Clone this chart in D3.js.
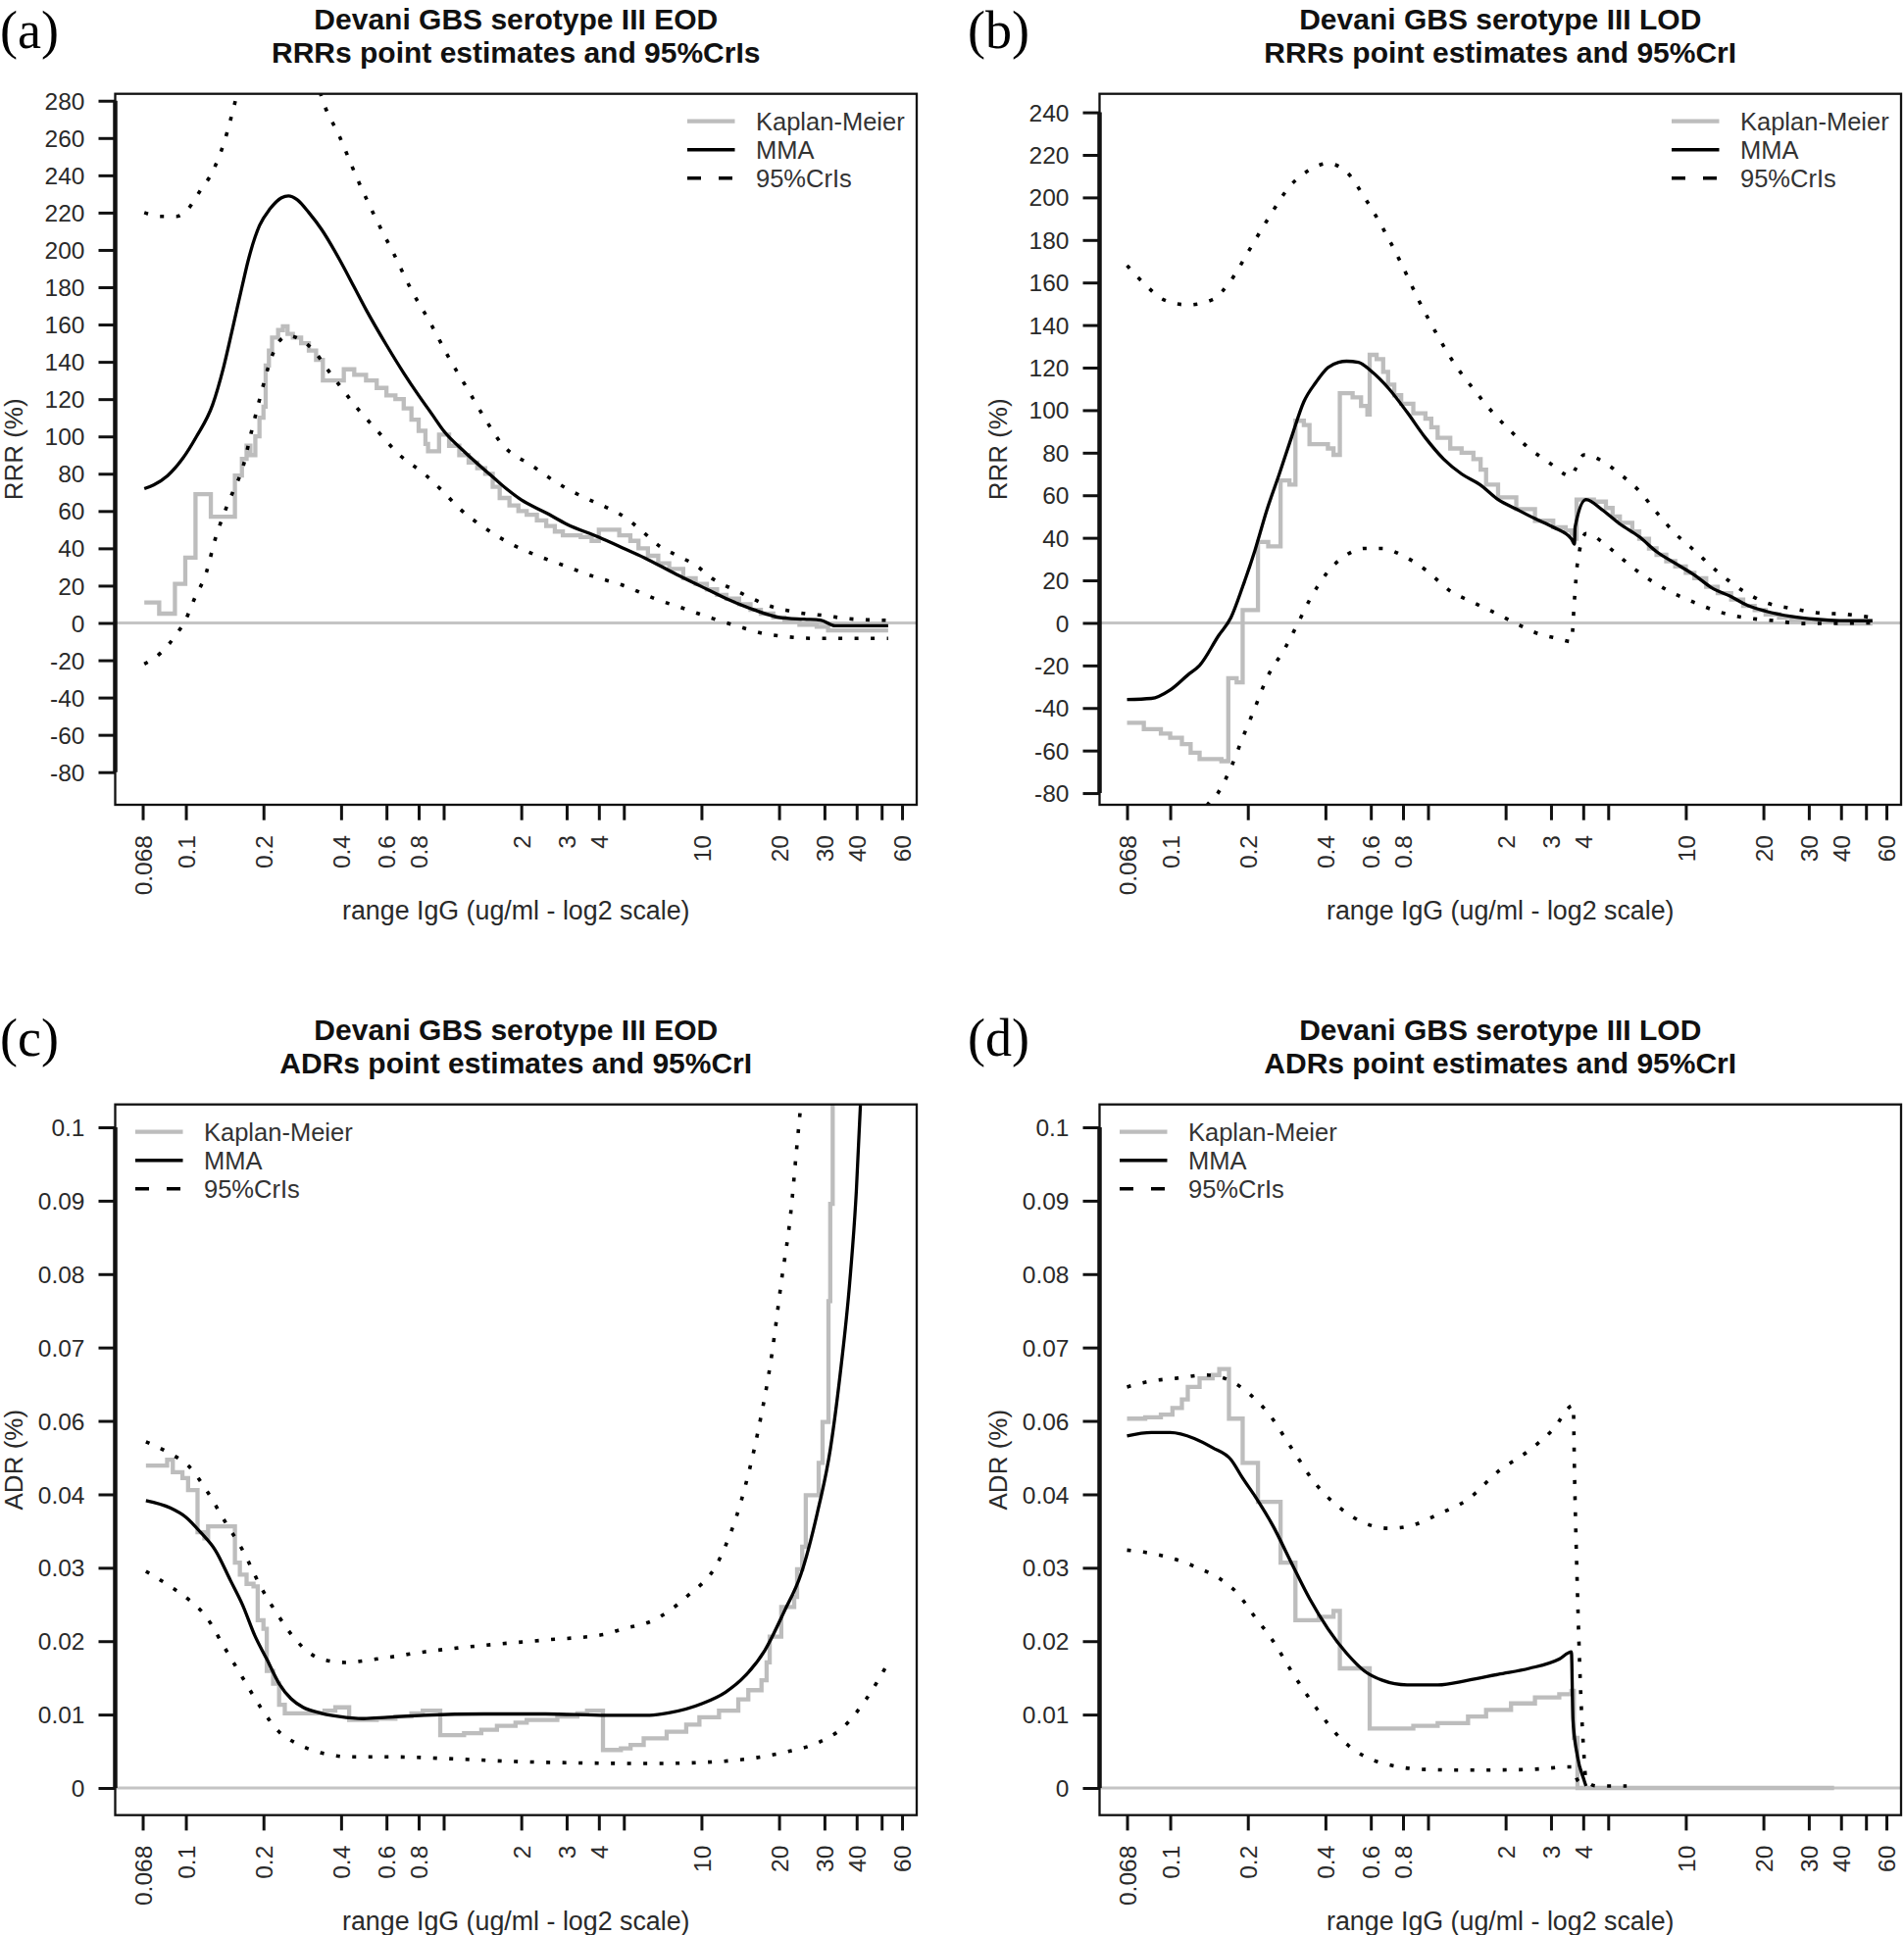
<!DOCTYPE html>
<html><head><meta charset="utf-8">
<script src="https://cdn.jsdelivr.net/npm/d3@7"></script>
<style>body{margin:0;background:#fff}svg{display:block}</style>
</head><body>
<svg id="chart" width="1942" height="1974"></svg>
<script>
// ---------- DATA ----------
const xTickValues = [0.068,0.1,0.2,0.4,0.6,0.8,1,2,3,4,5,10,20,30,40,50,60];
const xTickLabels = ["0.068","0.1","0.2","0.4","0.6","0.8","","2","3","4","","10","20","30","40","","60"];
const yTicksA = [-80,-60,-40,-20,0,20,40,60,80,100,120,140,160,180,200,220,240,260,280];
const yTicksB = [-80,-60,-40,-20,0,20,40,60,80,100,120,140,160,180,200,220,240];
const yTicksADR = [0,0.01111,0.02222,0.03333,0.04444,0.05556,0.06667,0.07778,0.08889,0.1];
const yTickLabelsADR = ["0","0.01","0.02","0.03","0.04","0.06","0.07","0.08","0.09","0.1"];
const legendLabels = ["Kaplan-Meier","MMA","95%CrIs"];
const titlesA = ["Devani GBS serotype III EOD","RRRs point estimates and 95%CrIs"];
const titlesB = ["Devani GBS serotype III LOD","RRRs point estimates and 95%CrI"];
const titlesC = ["Devani GBS serotype III EOD","ADRs point estimates and 95%CrI"];
const titlesD = ["Devani GBS serotype III LOD","ADRs point estimates and 95%CrI"];
const xTitle = "range IgG (ug/ml - log2 scale)";

// panel (a) RRR EOD
const kmA = [[0.069,11],[0.0788,5],[0.0907,21],[0.0995,35],[0.109,69],[0.125,57],[0.155,79],[0.165,88],[0.172,95],[0.178,90],[0.186,100],[0.193,110],[0.2,116],[0.204,138],[0.21,146],[0.216,153],[0.228,157],[0.238,159],[0.248,155],[0.26,153],[0.28,150],[0.3,146],[0.32,141],[0.34,130],[0.41,136],[0.45,133],[0.5,130],[0.55,126],[0.6,122],[0.65,120],[0.7,115],[0.75,109],[0.8,103],[0.85,96],[0.87,92],[0.96,101],[1.05,95],[1.15,90],[1.25,86],[1.35,83],[1.45,80],[1.55,73],[1.65,67],[1.8,63],[1.95,60],[2.1,58],[2.3,55],[2.5,52],[2.7,49],[2.9,47],[3.4,46],[3.75,44],[4.0,50],[4.8,47],[5.3,44],[5.7,40],[6.2,36],[6.8,32],[7.5,29],[8.5,24],[9.5,21],[10.5,18],[11.5,15],[12.5,13],[14,10],[15.5,7],[17,5],[19,3],[21,1],[24,-1],[28,-2],[31,-4],[53,-4]];
const mmaA = [[0.069,72],[0.075,74],[0.085,79],[0.097,88],[0.11,100],[0.127,117],[0.14,137],[0.153,160],[0.165,180],[0.175,195],[0.193,213],[0.212,222],[0.235,228],[0.25,229],[0.27,227],[0.3,220],[0.336,211],[0.394,195],[0.45,180],[0.5,168],[0.6,149],[0.7,134],[0.8,122],[0.9,112],[1,103],[1.2,92],[1.5,80],[1.75,72],[2,66],[2.5,59],[3,53],[4,46],[5,40],[6,35],[8,26],[10,19.5],[12.5,13],[16,7],[20,3],[25,2],[29,1.5],[33,-1.5],[53,-1.5]];
const ciLowA = [[0.069,-22],[0.08,-16],[0.092,-6],[0.1,2],[0.108,13],[0.12,27],[0.13,45],[0.141,59],[0.153,71],[0.166,83],[0.18,103],[0.195,122],[0.212,140],[0.23,151],[0.25,154],[0.285,151],[0.318,145],[0.354,136],[0.394,127.5],[0.463,115],[0.545,104],[0.675,90],[0.84,80],[0.985,71],[1.16,61],[1.44,51],[1.79,43],[2.22,37],[2.9,31],[3.8,25],[5.0,20],[6.6,13],[8.6,7.6],[11.1,2.3],[14,-2],[17.3,-5.6],[21.5,-7.4],[28,-8.3],[53,-8.3]];
const ciUpA = [[0.069,220],[0.08,218],[0.092,218],[0.102,222],[0.114,232],[0.127,242],[0.141,258],[0.157,282],[0.18,315],[0.22,335],[0.27,325],[0.31,300],[0.336,282],[0.394,261],[0.463,238],[0.545,217],[0.64,198],[0.753,178],[0.887,161],[1.04,143],[1.23,126],[1.44,110],[1.68,96],[2.22,84],[2.76,75],[3.42,68],[4.27,62],[5,57],[5.8,50],[6.9,41],[8.1,36],[9.6,30.5],[11.1,23.5],[13.3,18],[15.8,13],[18.1,9.4],[21.5,6.7],[25.2,5],[30,4],[36.7,2.3],[53,1.4]];

// panel (b) RRR LOD
const kmB = [[0.068,-47],[0.079,-50],[0.092,-52],[0.1,-54],[0.111,-57],[0.12,-61],[0.13,-64],[0.158,-65],[0.168,-26],[0.181,-28],[0.191,6],[0.219,38],[0.24,36],[0.268,67],[0.29,65],[0.306,95],[0.33,93],[0.347,84],[0.409,82],[0.43,79],[0.455,108],[0.51,106],[0.55,102],[0.582,98],[0.594,126],[0.632,124],[0.67,118],[0.7,112],[0.74,107],[0.787,103],[0.877,98.5],[0.977,96],[1.03,92],[1.09,87],[1.22,82],[1.35,80],[1.5,77],[1.6,72],[1.68,65],[1.87,59],[2.2,53.5],[2.6,48],[3.06,45],[3.42,43.5],[3.6,42],[3.7,39.5],[3.77,58],[4.4,57],[4.9,54],[5.2,50],[5.55,47],[6.2,43],[6.6,39.5],[7.2,35],[7.7,32],[8.4,29],[9.1,26.5],[10,23.5],[10.8,21],[12,17],[13.3,14],[15,11],[16.7,8],[18.5,6],[20.4,4],[23,2.5],[25.7,1.2],[32,0.3],[39.5,-0.3],[53,-0.3]];
const mmaB = [[0.068,-36],[0.0845,-35.5],[0.1,-31.5],[0.117,-24.5],[0.13,-20],[0.154,-6],[0.172,2.5],[0.191,17],[0.213,34],[0.237,53],[0.265,70],[0.295,87],[0.33,104],[0.367,113],[0.409,120],[0.45,122.5],[0.483,123],[0.537,122.5],[0.6,118.5],[0.706,110],[0.83,99],[0.977,87],[1.15,77],[1.35,70],[1.59,65],[1.87,58],[2.2,53.5],[2.6,49],[3.06,45],[3.6,39.5],[3.7,37],[3.72,45],[4.1,58],[4.7,53.5],[5.55,46.5],[6.6,40.5],[7.7,33.5],[9.1,28],[10.8,22.5],[12.6,16.5],[14.9,12.5],[17.5,8],[20.4,5.5],[25.7,3],[32,1.7],[39.5,1.1],[53,1]];
const ciLowB = [[0.068,-160],[0.085,-145],[0.1,-128],[0.12,-105],[0.138,-86.5],[0.154,-79.5],[0.172,-68],[0.191,-54],[0.213,-40],[0.237,-26],[0.28,-11.5],[0.312,-0.5],[0.348,11],[0.409,24],[0.483,32],[0.567,35],[0.665,35],[0.787,32],[0.977,25],[1.22,15],[1.5,9.6],[1.87,4],[2.2,-0.3],[2.6,-4.5],[3.2,-7.4],[3.6,-8.8],[3.7,11],[3.8,28],[4.1,42],[4.75,38],[5.55,31],[6.9,22],[8.6,15],[10.8,9.6],[13.3,5.4],[16.7,2.6],[21.8,1.1],[28.5,-0.3],[53,0]];
const ciUpB = [[0.068,168],[0.08,159],[0.094,152],[0.117,149.5],[0.146,152],[0.172,161],[0.202,175],[0.237,189],[0.295,206],[0.348,213],[0.409,216],[0.483,212],[0.567,200],[0.665,186],[0.787,169],[0.926,151],[1.09,135],[1.28,121],[1.5,110],[1.78,99],[2.1,90],[2.47,82],[2.9,76],[3.6,69],[3.72,72],[4.03,79],[4.75,76],[5.55,70],[6.6,62],[7.7,52],[9.1,42],[10.8,34],[13.3,24],[16.7,15],[20.4,9.6],[25.7,6.8],[32,4.8],[42,4],[53,2.5]];

// panel (c) ADR EOD
const kmC = [[0.07,0.0488],[0.0846,0.0497],[0.089,0.0478],[0.097,0.0469],[0.102,0.0451],[0.111,0.0387],[0.118,0.0378],[0.122,0.0396],[0.155,0.0341],[0.162,0.0323],[0.172,0.0309],[0.183,0.0305],[0.19,0.0254],[0.2,0.0241],[0.206,0.0177],[0.218,0.0158],[0.23,0.0126],[0.242,0.0113],[0.345,0.0117],[0.38,0.0122],[0.43,0.0103],[0.55,0.0105],[0.65,0.0108],[0.75,0.0113],[0.83,0.0117],[0.97,0.008],[1.2,0.0083],[1.4,0.0088],[1.61,0.0094],[1.9,0.0099],[2.1,0.0103],[2.76,0.0108],[3.3,0.0113],[3.6,0.0117],[4.15,0.00575],[4.87,0.006],[5.31,0.0065],[5.97,0.0075],[7.33,0.0085],[8.73,0.0096],[9.82,0.0107],[11.7,0.0117],[13.9,0.0134],[15.2,0.0148],[17.1,0.0163],[17.9,0.019],[18.4,0.0229],[20.4,0.0274],[22.9,0.0289],[23.5,0.0331],[24.6,0.0365],[25.4,0.0443],[28.5,0.0492],[29.5,0.0554],[31.1,0.0737],[31.6,0.0884],[32.3,0.115]];
const mmaC = [[0.07,0.0435],[0.087,0.0424],[0.1,0.041],[0.114,0.0387],[0.13,0.036],[0.149,0.0314],[0.166,0.0277],[0.185,0.0231],[0.206,0.0195],[0.23,0.0158],[0.256,0.0135],[0.285,0.0122],[0.336,0.0113],[0.394,0.0108],[0.489,0.0105],[0.607,0.0107],[0.84,0.011],[1.44,0.0112],[2.49,0.0112],[4.27,0.011],[6.3,0.011],[7.55,0.0114],[10.1,0.0128],[12.4,0.0145],[14.8,0.017],[17.6,0.0208],[21,0.0268],[24.3,0.0323],[28.1,0.0415],[31.6,0.0512],[34.5,0.0625],[37.6,0.0765],[39.9,0.0904],[41.4,0.1036],[42.5,0.115]];
const ciLowC = [[0.07,0.0328],[0.087,0.0305],[0.102,0.0286],[0.12,0.0259],[0.141,0.0213],[0.166,0.0167],[0.195,0.0122],[0.23,0.0085],[0.27,0.0067],[0.336,0.0053],[0.44,0.0047],[0.64,0.0047],[1.1,0.0044],[1.9,0.004],[3.26,0.0038],[6.5,0.0037],[11.7,0.004],[21,0.0054],[28.1,0.0068],[35.5,0.0092],[43.5,0.0134],[52.6,0.0187]];
const ciUpC = [[0.07,0.0524],[0.087,0.0506],[0.102,0.0488],[0.12,0.0451],[0.141,0.0405],[0.166,0.036],[0.195,0.0305],[0.23,0.0259],[0.27,0.0222],[0.336,0.0195],[0.416,0.019],[0.545,0.0195],[0.84,0.0206],[1.44,0.0216],[2.49,0.0224],[4.27,0.0233],[4.87,0.024],[6.52,0.0254],[8.73,0.0289],[11.7,0.0345],[14.3,0.0436],[16.6,0.0541],[18.7,0.0653],[20.4,0.0765],[22.2,0.087],[23.5,0.0975],[24.3,0.1036],[25,0.11]];

// panel (d) ADR LOD
const kmD = [[0.068,0.0559],[0.08,0.0561],[0.092,0.0565],[0.102,0.0575],[0.111,0.0588],[0.117,0.0607],[0.13,0.062],[0.146,0.0625],[0.155,0.0634],[0.169,0.0559],[0.191,0.0492],[0.219,0.0433],[0.268,0.0341],[0.306,0.0254],[0.377,0.0259],[0.43,0.0268],[0.455,0.0181],[0.594,0.009],[0.705,0.009],[0.877,0.0094],[1.09,0.0098],[1.43,0.0108],[1.68,0.0118],[2.1,0.0128],[2.6,0.0137],[3.23,0.0142],[3.6,0.0147],[3.68,0.0076],[3.8,0],[37.6,0]];
const mmaD = [[0.068,0.0533],[0.0845,0.0538],[0.1,0.0538],[0.124,0.0529],[0.146,0.0515],[0.172,0.0497],[0.191,0.0469],[0.213,0.0442],[0.251,0.0396],[0.295,0.0341],[0.348,0.0286],[0.409,0.0241],[0.483,0.0204],[0.567,0.0177],[0.665,0.0163],[0.83,0.0156],[1.09,0.0156],[1.43,0.0163],[1.87,0.0172],[2.47,0.0181],[3.23,0.0195],[3.6,0.0206],[3.65,0.0103],[3.8,0.0048],[4.03,0.0012],[4.1,0.0003]];
const ciLowD = [[0.068,0.036],[0.0845,0.0355],[0.105,0.0346],[0.13,0.0332],[0.154,0.0318],[0.181,0.0296],[0.213,0.0259],[0.251,0.0222],[0.295,0.0177],[0.367,0.0122],[0.455,0.0076],[0.567,0.0048],[0.706,0.0035],[0.977,0.0028],[1.43,0.0027],[2.47,0.0028],[3.6,0.0032],[3.8,0.0012],[4.03,0.0003]];
const ciUpD = [[0.068,0.0607],[0.0845,0.0616],[0.105,0.062],[0.138,0.0625],[0.172,0.0616],[0.202,0.0597],[0.237,0.057],[0.295,0.0515],[0.367,0.046],[0.455,0.0424],[0.567,0.0401],[0.706,0.0393],[0.877,0.0398],[1.09,0.0414],[1.43,0.0437],[1.87,0.0479],[2.47,0.0511],[3.06,0.0543],[3.66,0.0579],[3.7,0.0479],[3.8,0.0296],[3.9,0.0158],[4.03,0.0048],[4.1,0.0012],[4.5,0.0003],[5.9,0.0003]];

// ---------- LAYOUT ----------
const xDomain = [0.0532, 68.4];
const FONT = "'Liberation Sans', Arial, sans-serif";
const KM_COL = "#bdbdbd";
const panels = [
  {tag:"(a)", tagX:0, tagY:49, box:[117.5,95.7,935,821], yDomain:[-97.5,283.7], yTicks:yTicksA, yLabels:yTicksA.map(String), titles:titlesA, ylab:"RRR (%)", legend:"right", km:kmA, mma:mmaA, lo:ciLowA, up:ciUpA},
  {tag:"(b)", tagX:987, tagY:49, box:[1121.5,95.7,1939,821], yDomain:[-85.5,248.7], yTicks:yTicksB, yLabels:yTicksB.map(String), titles:titlesB, ylab:"RRR (%)", legend:"right", km:kmB, mma:mmaB, lo:ciLowB, up:ciUpB},
  {tag:"(c)", tagX:0, tagY:1077, box:[117.5,1126.7,935,1851.7], yDomain:[-0.00411,0.10346], yTicks:yTicksADR, yLabels:yTickLabelsADR, titles:titlesC, ylab:"ADR (%)", legend:"left", km:kmC, mma:mmaC, lo:ciLowC, up:ciUpC},
  {tag:"(d)", tagX:987, tagY:1077, box:[1121.5,1126.7,1939,1851.7], yDomain:[-0.00411,0.10346], yTicks:yTicksADR, yLabels:yTickLabelsADR, titles:titlesD, ylab:"ADR (%)", legend:"left", km:kmD, mma:mmaD, lo:ciLowD, up:ciUpD}
];

const svg = d3.select("#chart");
const defs = svg.append("defs");

panels.forEach((p, i) => {
  const [x0, y0, x1, y1] = p.box;
  const x = d3.scaleLog().base(2).domain(xDomain).range([x0, x1]);
  const y = d3.scaleLinear().domain(p.yDomain).range([y1, y0]);
  const g = svg.append("g");

  defs.append("clipPath").attr("id", "clip" + i)
    .append("rect").attr("x", x0).attr("y", y0).attr("width", x1 - x0).attr("height", y1 - y0);
  const plot = g.append("g").attr("clip-path", `url(#clip${i})`);

  plot.append("line").attr("x1", x0).attr("x2", x1).attr("y1", y(0)).attr("y2", y(0))
    .attr("stroke", "#c4c4c4").attr("stroke-width", 3);

  const smooth = d3.line().x(d => x(d[0])).y(d => y(d[1])).curve(d3.curveMonotoneX);
  const step = d3.line().x(d => x(d[0])).y(d => y(d[1])).curve(d3.curveStepAfter);

  plot.append("path").attr("d", step(p.km)).attr("fill", "none")
    .attr("stroke", KM_COL).attr("stroke-width", 4.3).attr("stroke-linejoin", "miter");
  [p.lo, p.up].forEach(s => plot.append("path").attr("d", smooth(s)).attr("fill", "none")
    .attr("stroke", "#000").attr("stroke-width", 3.6).attr("stroke-dasharray", "4,12.5"));
  plot.append("path").attr("d", smooth(p.mma)).attr("fill", "none")
    .attr("stroke", "#000").attr("stroke-width", 3.3).attr("stroke-linejoin", "round");

  // box
  g.append("rect").attr("x", x0).attr("y", y0).attr("width", x1 - x0).attr("height", y1 - y0)
    .attr("fill", "none").attr("stroke", "#111").attr("stroke-width", 2.3);

  // y axis
  const yAxis = g.append("g").attr("transform", `translate(${x0},0)`)
    .call(d3.axisLeft(y).tickValues(p.yTicks).tickFormat((d, k) => p.yLabels[k]).tickSize(17).tickPadding(14).tickSizeOuter(0));
  yAxis.select(".domain").remove();
  yAxis.selectAll(".tick line").attr("stroke", "#111").attr("stroke-width", 3);
  yAxis.selectAll(".tick text").attr("font-family", FONT).attr("font-size", 24.5).attr("fill", "#2a2a2a").attr("dy", "0.35em");
  const yt = p.yTicks;
  g.append("line").attr("x1", x0).attr("x2", x0).attr("y1", y(yt[0])).attr("y2", y(yt[yt.length - 1]))
    .attr("stroke", "#111").attr("stroke-width", 4.5);

  // x axis
  const xAxis = g.append("g").attr("transform", `translate(0,${y1})`)
    .call(d3.axisBottom(x).tickValues(xTickValues).tickFormat((d, k) => xTickLabels[k]).tickSize(15.7).tickSizeOuter(0));
  xAxis.select(".domain").remove();
  xAxis.selectAll(".tick line").attr("stroke", "#111").attr("stroke-width", 3);
  xAxis.selectAll(".tick text").attr("font-family", FONT).attr("font-size", 24.5).attr("fill", "#2a2a2a")
    .attr("transform", "rotate(-90)").attr("text-anchor", "end").attr("x", -31).attr("y", 0).attr("dy", "0.35em");

  // axis titles
  g.append("text").attr("x", (x0 + x1) / 2).attr("y", y1 + 117).attr("text-anchor", "middle")
    .attr("font-family", FONT).attr("font-size", 26.8).attr("fill", "#2a2a2a").text(xTitle);
  g.append("text").attr("transform", `translate(${x0 - 104},${(y0 + y1) / 2}) rotate(-90)`)
    .attr("text-anchor", "middle").attr("dy", "0.35em")
    .attr("font-family", FONT).attr("font-size", 26).attr("fill", "#2a2a2a").text(p.ylab);

  // titles
  p.titles.forEach((t, k) => g.append("text").attr("x", (x0 + x1) / 2).attr("y", y0 - 66 + k * 34)
    .attr("text-anchor", "middle").attr("font-family", FONT).attr("font-weight", "bold")
    .attr("font-size", 30).attr("fill", "#111").text(t));

  // panel tag
  g.append("text").attr("x", p.tagX).attr("y", p.tagY).attr("font-family", "'Liberation Serif', 'Times New Roman', serif")
    .attr("font-size", 54).attr("fill", "#000").text(p.tag);

  // legend
  const lx0 = p.legend === "right" ? x1 - 234 : x0 + 20.5;
  const lstyles = [
    {stroke: KM_COL, w: 4.3, dash: null},
    {stroke: "#000", w: 3.5, dash: null},
    {stroke: "#000", w: 3.5, dash: "14,18"}
  ];
  legendLabels.forEach((lab, k) => {
    const ly = y0 + 28 + k * 29;
    const ln = g.append("line").attr("x1", lx0).attr("x2", lx0 + 48.5).attr("y1", ly).attr("y2", ly)
      .attr("stroke", lstyles[k].stroke).attr("stroke-width", lstyles[k].w);
    if (lstyles[k].dash) ln.attr("stroke-dasharray", lstyles[k].dash);
    g.append("text").attr("x", lx0 + 70).attr("y", ly).attr("dy", "0.35em")
      .attr("font-family", FONT).attr("font-size", 25.5).attr("fill", "#333").text(lab);
  });
});
</script>
</body></html>
